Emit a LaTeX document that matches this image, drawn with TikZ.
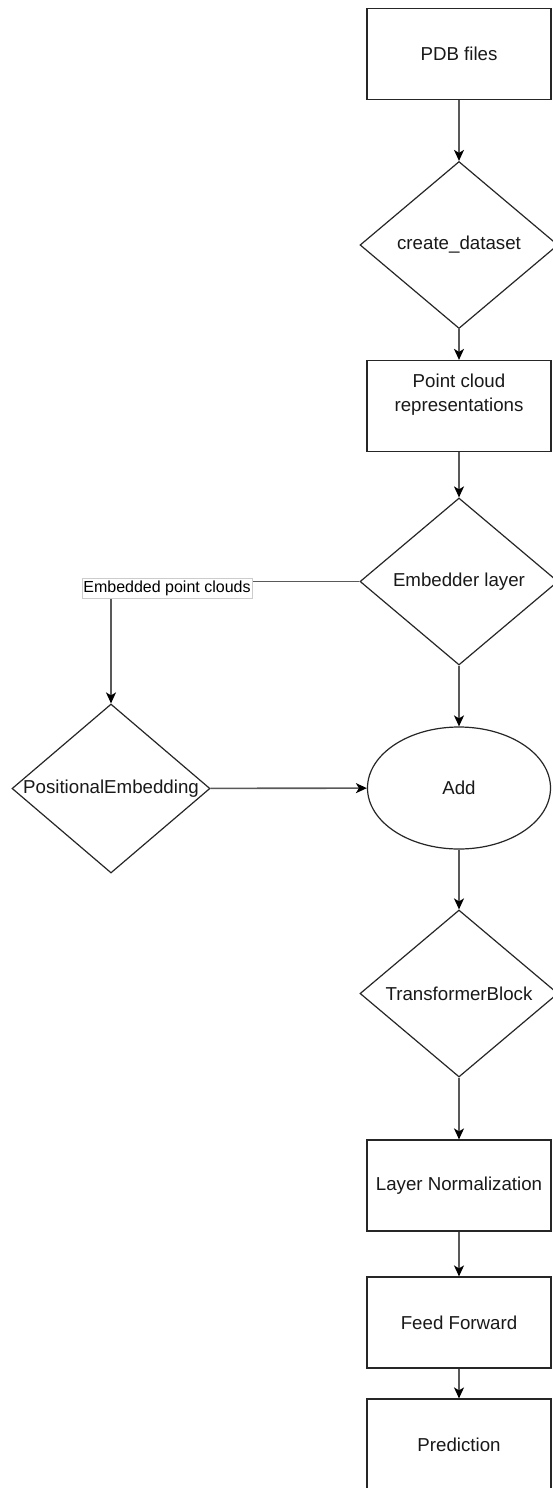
\documentclass[tikz,border=0pt]{standalone}
\usepackage{fontspec}
\setmainfont{Liberation Sans}
\usetikzlibrary{shapes.geometric,arrows.meta}
\begin{document}
\begin{tikzpicture}[x=1pt,y=-1pt,
  txt/.style={font=\fontsize{18.7}{24}\selectfont, align=center, text=black!90},
  box/.style={draw=black!85, line width=1.2pt, rectangle, minimum width=184pt, minimum height=91pt, inner sep=0pt, txt},
  dia/.style={draw=black!85, line width=1.2pt, diamond, minimum width=198pt, minimum height=167pt, inner sep=0pt},
  arr/.style={draw=black!65, line width=1.6pt, -{Stealth[length=11pt,width=10pt,inset=3pt,color=black]}},
  lbl/.style={draw=black!20, fill=white, line width=0.8pt, inner sep=0pt, minimum width=170pt, minimum height=20pt, font=\fontsize{16}{18}\selectfont}
]
\fill[white] (0,0) rectangle (552,1488);
\useasboundingbox (0,0) rectangle (552,1488);

\node[box] (pdb) at (459,54) {PDB files};
\node[dia, label={[txt]center:create\_dataset}] (cd) at (459,245) {};
\node[box, label={[txt,yshift=11pt]center:Point cloud\\representations}] (pc) at (459,406) {};
\node[dia, label={[txt]center:Embedder layer}] (emb) at (459,581.5) {};
\node[dia, minimum height=169pt, label={[txt]center:PositionalEmbedding}] (pos) at (111,788.5) {};
\node[ellipse, draw=black!85, line width=1.2pt, minimum width=183pt, minimum height=122pt, inner sep=0pt, txt] (add) at (459,788) {Add};
\node[dia, label={[txt]center:TransformerBlock}] (tb) at (459,993.5) {};
\node[box] (ln) at (459,1185.5) {Layer Normalization};
\node[box] (ff) at (459,1322.5) {Feed Forward};
\node[box] (pred) at (459,1444.5) {Prediction};

\draw[arr] (pdb) -- (cd);
\draw[arr] (cd) -- (pc);
\draw[arr] (pc) -- (emb);
\draw[arr] (emb) -- (add);
\draw[arr] (add) -- (tb);
\draw[arr] (tb) -- (ln);
\draw[arr] (ln) -- (ff);
\draw[arr] (ff) -- (pred);
\draw[arr] (pos) -- (add);
\draw[arr] (emb.west) -| (pos.north);
\node[lbl] (elabel) at (167,588) {Embedded point clouds};
\end{tikzpicture}
\end{document}
